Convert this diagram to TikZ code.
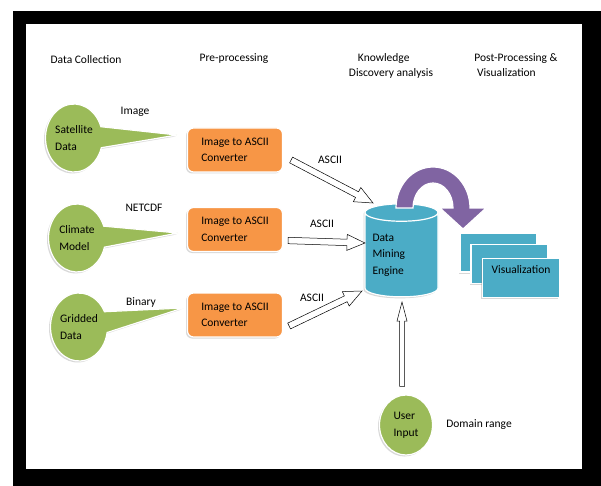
\documentclass[tikz,border=0pt]{standalone}
\usepackage{fontspec}
\setmainfont{Carlito}
\usetikzlibrary{shapes.geometric, shapes.callouts, shadows, calc, positioning}
\definecolor{dmgreen}{HTML}{9BBB59}
\definecolor{dmorange}{HTML}{F79646}
\definecolor{dmblue}{HTML}{4BACC6}
\definecolor{dmpurple}{HTML}{8064A2}
\tikzset{
	txt/.style={font=\fontsize{11.5}{16.5}\selectfont, inner sep=0pt, align=left},
	softshadow/.style={drop shadow={shadow xshift=-1.5pt, shadow yshift=-1.5pt, opacity=0.3}},
	source/.style={ellipse callout, callout pointer arc=36, fill=dmgreen, draw=white, line width=1.2pt,
		minimum width=57pt, minimum height=68pt, inner sep=0pt, txt, softshadow},
	user/.style={ellipse, fill=dmgreen, draw=white, line width=1.2pt,
		minimum width=53pt, minimum height=60pt, inner sep=0pt, txt, softshadow},
	conv/.style={rectangle, rounded corners=6pt, fill=dmorange, draw=white, line width=1.2pt,
		minimum width=95pt, minimum height=44pt, txt, softshadow},
	viz/.style={rectangle, fill=dmblue, draw=white, line width=1.2pt,
		minimum width=77pt, minimum height=39pt, txt, text depth=16pt, softshadow},
	shaft half/.store in=\arShaft, shaft half=3.2pt,
	head half/.store in=\arHead, head half=8pt,
	head len/.store in=\arLen, head len=18pt,
	hollow arrow/.style={draw=black, fill=white, line width=0.5pt, line join=miter,
		to path={let \p1=($(\tikztotarget)-(\tikztostart)$), \n1={atan2(\y1,\x1)} in
			($(\tikztostart)+(\n1+90:\arShaft)$)
			-- ($(\tikztotarget)+(\n1+180:\arLen)+(\n1+90:\arShaft)$)
			-- ($(\tikztotarget)+(\n1+180:\arLen)+(\n1+90:\arHead)$)
			-- (\tikztotarget)
			-- ($(\tikztotarget)+(\n1+180:\arLen)+(\n1-90:\arHead)$)
			-- ($(\tikztotarget)+(\n1+180:\arLen)+(\n1-90:\arShaft)$)
			-- ($(\tikztostart)+(\n1-90:\arShaft)$) -- cycle}}
}

\begin{document}
\begin{tikzpicture}[x=1pt, y=-1pt]
	% FRAME
	\useasboundingbox (0,0) rectangle (601,486);
	\fill[white] (0,0) rectangle (601,486);
	\fill[black] (13,11) rectangle (601,486);
	\fill[white] (26,24) rectangle (582,469);
	
	% Column headers
	\node[txt] (hdc) at (86,60) {Data Collection};
	\node[txt] (hpp) at (234,59) {Pre-processing};
	\node[txt, font=\fontsize{11.5}{15}\selectfont] (hkd) at (391,66) {\hspace{9pt}Knowledge\\Discovery analysis};
	\node[txt, font=\fontsize{11.5}{15}\selectfont] (hpv) at (516,65) {Post-Processing \&\\\ Visualization};
	
	% Data sources
	\node[source, callout absolute pointer={(177,135)}] (sat) at (74,138) {Satellite\\Data};
	\node[source, callout absolute pointer={(178,233)}] (clim) at (77,238) {Climate\\Model};
	\node[source, callout absolute pointer={(183,308)}] (grid) at (79,327) {Gridded\\Data};
	\node[txt] (fimg) at (135,112) {Image};
	\node[txt] (fnc) at (144,208) {NETCDF};
	\node[txt] (fbin) at (141,302) {Binary};
	
	% Converters
	\foreach \i/\y in {1/150,2/229.5,3/315}
	{
		\node[conv] (conv\i) at (235,\y) {Image to ASCII\\Converter};
	}
	
	% Mining engine
	\node[cylinder, shape border rotate=90, aspect=0.3, minimum width=73pt, minimum height=93pt,
	fill=dmblue, draw=white, line width=1.2pt, txt, text width=58pt, softshadow] (dme) at (401.5,255) {Data\\Mining\\Engine};
	
	%Curved arrow
	\fill[dmpurple, draw=white, line width=1.2pt]
	(396,208) arc[start angle=180, end angle=0, x radius=37pt, y radius=41pt]
	-- (486,208) -- (463,229) -- (440,208) -- (453,208)
	arc[start angle=0, end angle=180, x radius=20pt, y radius=25pt] -- cycle;
	
	% Visualization
	\foreach \i/\p/\t in {1/{498.5,252.5}/{}, 2/{509.5,264}/{}, 3/{521,278}/Visualization}
	{
		\node[viz] (viz\i) at (\p) {\t};
	}
	
	% User input
	\node[user] (user) at (406,425) {User\\Input};
	\node[txt, right=13pt of user] (domain) {Domain range};
	
	% ASCII arrows
	\draw[hollow arrow] ($(conv1.east)+(8,10)$) to ($(dme.center)+(-28.5,-52)$);
	\draw[hollow arrow] ($(conv2.east)+(5,11)$) to ($(dme.center)+(-36.5,-12)$);
	\draw[hollow arrow] ($(conv3.east)+(6,11)$) to ($(dme.center)+(-39.5,36)$);
	\draw[hollow arrow, shaft half=2.5pt, head half=5pt, head len=19pt] ($(user.north)+(-4,-8)$) to ($(dme.center)+(0.5,47)$);
	\node[txt] (asc1) at (330,160) {ASCII};
	\node[txt] (asc2) at (322,224) {ASCII};
	\node[txt] (asc3) at (312,298) {ASCII};
\end{tikzpicture}
\end{document}
